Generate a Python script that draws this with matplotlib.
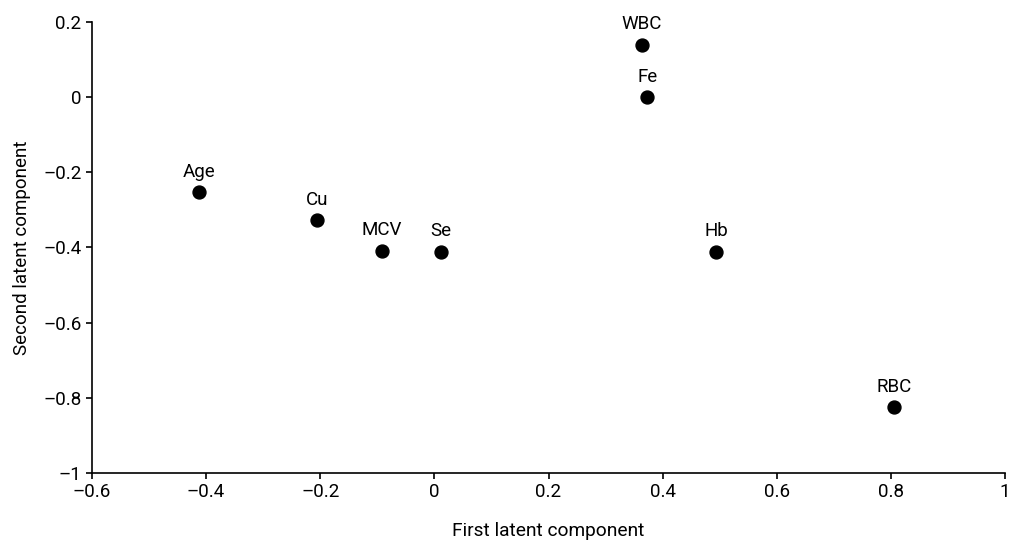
import matplotlib
matplotlib.use("Agg")
import matplotlib.pyplot as plt

# loadings
labels = ["Age", "Cu", "MCV", "Se", "WBC", "Fe", "Hb", "RBC"]
first_comp = [-0.413, -0.206, -0.092, 0.011, 0.363, 0.373, 0.494, 0.805]
second_comp = [-0.252, -0.327, -0.408, -0.411, 0.14, 0.0, -0.411, -0.824]

xticks = [-0.6, -0.4, -0.2, 0, 0.2, 0.4, 0.6, 0.8, 1]
yticks = [-1, -0.8, -0.6, -0.4, -0.2, 0, 0.2]

plt.rcParams['font.family'] = ['Roboto', 'DejaVu Sans']

fig = plt.figure(figsize=(10.09, 5.43), dpi=100)
ax = fig.add_axes([92 / 1009, 1 - 473 / 543, (1005 - 92) / 1009, (473 - 22) / 543])

ax.plot(first_comp, second_comp, 'o', color='black', markersize=9.3, clip_on=False)
for name, x, y in zip(labels, first_comp, second_comp):
    ax.annotate(name, (x, y), xytext=(0, 11), textcoords='offset points',
                ha='center', va='baseline', fontsize=13.5)

ax.set_xlim(-0.6, 1)
ax.set_ylim(-1, 0.2)
ax.set_xticks(xticks)
ax.set_yticks(yticks)
fmt = lambda v: ('\u2013' if v < 0 else '') + ('%g' % abs(v))
ax.set_xticklabels([fmt(v) for v in xticks])
ax.set_yticklabels([fmt(v) for v in yticks])
ax.tick_params(labelsize=13.5, length=4, width=1.2, direction='out')

ax.spines['top'].set_visible(False)
ax.spines['right'].set_visible(False)
ax.spines['left'].set_linewidth(1.2)
ax.spines['bottom'].set_linewidth(1.2)

ax.set_xlabel('First latent component', fontsize=13.8, labelpad=15)
ax.set_ylabel('Second latent component', fontsize=13.5, labelpad=9)

fig.savefig('out.png', dpi=100)
